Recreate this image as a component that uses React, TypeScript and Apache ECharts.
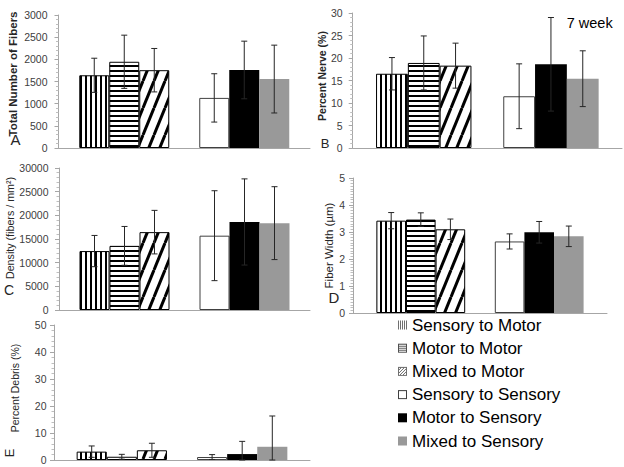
import React, { useEffect, useRef } from "react";
import * as echarts from "echarts";

// ---------- data ----------
const groups = [
  "Sensory to Motor",
  "Motor to Motor",
  "Mixed to Motor",
  "Sensory to Sensory",
  "Motor to Sensory",
  "Mixed to Sensory",
];
const fibersMean = [1640, 1945, 1755, 1130, 1760, 1555];
const fibersErr = [385, 600, 490, 545, 650, 765];
const nerveMean = [16.5, 18.9, 18.3, 11.5, 18.6, 15.4];
const nerveErr = [3.6, 6.0, 5.0, 7.2, 10.4, 6.2];
const densityMean = [12450, 13550, 16450, 15700, 18600, 18350];
const densityErr = [3300, 4100, 4600, 9500, 9100, 7700];
const widthMean = [3.42, 3.46, 3.1, 2.65, 2.99, 2.84];
const widthErr = [0.3, 0.25, 0.38, 0.28, 0.4, 0.38];
const debrisMean = [3.1, 1.2, 3.6, 1.1, 2.2, 4.9];
const debrisErr = [2.1, 0.9, 2.6, 0.9, 4.7, 11.4];

const FONT = "'Liberation Sans', Arial, sans-serif";

function makeCanvas(w: number, h: number, draw: (ctx: CanvasRenderingContext2D) => void) {
  const c = document.createElement("canvas");
  c.width = w;
  c.height = h;
  const ctx = c.getContext("2d") as CanvasRenderingContext2D;
  draw(ctx);
  return c;
}
function pattern(c: HTMLCanvasElement) {
  return { image: c, repeat: "repeat", imageWidth: c.width, imageHeight: c.height } as any;
}

export default function App() {
  const ref = useRef<HTMLDivElement>(null);

  useEffect(() => {
    if (!ref.current) return;
    const chart = echarts.init(ref.current, null, { renderer: "svg" });

    const vStripe = makeCanvas(5, 5, (ctx) => {
      ctx.fillStyle = "#fff";
      ctx.fillRect(0, 0, 5, 5);
      ctx.fillStyle = "#000";
      ctx.fillRect(0, 0, 2, 5);
    });
    const hStripe = makeCanvas(5, 5, (ctx) => {
      ctx.fillStyle = "#fff";
      ctx.fillRect(0, 0, 5, 5);
      ctx.fillStyle = "#000";
      ctx.fillRect(0, 0, 5, 2);
    });
    const dStripe = makeCanvas(11, 27, (ctx) => {
      ctx.fillStyle = "#fff";
      ctx.fillRect(0, 0, 11, 27);
      ctx.strokeStyle = "#000";
      ctx.lineWidth = 3;
      for (const x0 of [-11, 0, 11]) {
        ctx.beginPath();
        ctx.moveTo(x0, 27);
        ctx.lineTo(x0 + 11, 0);
        ctx.stroke();
      }
    });

    // legend icons (9x9 pixel images)
    const S = 9;
    const icon = (draw: (ctx: CanvasRenderingContext2D) => void) =>
      "image://" + makeCanvas(S, S, draw).toDataURL();
    const border = (ctx: CanvasRenderingContext2D, col: string) => {
      ctx.fillStyle = col;
      ctx.fillRect(0, 0, S, 1);
      ctx.fillRect(0, S - 1, S, 1);
      ctx.fillRect(0, 0, 1, S);
      ctx.fillRect(S - 1, 0, 1, S);
    };
    const legendIcons = [
      icon((ctx) => {
        ctx.fillStyle = "#fff";
        ctx.fillRect(0, 0, S, S);
        ctx.fillStyle = "#707070";
        for (const x of [0, 2, 4, 6, 8]) ctx.fillRect(x, 0, 1, S);
      }),
      icon((ctx) => {
        ctx.fillStyle = "#fff";
        ctx.fillRect(0, 0, S, S);
        ctx.fillStyle = "#606060";
        for (const y of [2, 4, 6]) ctx.fillRect(0, y, S, 1);
        border(ctx, "#505050");
      }),
      icon((ctx) => {
        ctx.fillStyle = "#fff";
        ctx.fillRect(0, 0, S, S);
        ctx.fillStyle = "#707070";
        for (let x = 0; x < S; x++)
          for (let y = 0; y < S; y++) if ((x + y) % 3 === 0) ctx.fillRect(x, y, 1, 1);
        border(ctx, "#707070");
      }),
      icon((ctx) => {
        ctx.fillStyle = "#fff";
        ctx.fillRect(0, 0, S, S);
        border(ctx, "#404040");
      }),
      icon((ctx) => {
        ctx.fillStyle = "#000";
        ctx.fillRect(0, 0, S, S);
      }),
      icon((ctx) => {
        ctx.fillStyle = "#999";
        ctx.fillRect(0, 0, S, S);
      }),
    ];

    const barStyles: any[] = [
      { color: pattern(vStripe), borderColor: "#000", borderWidth: 1 },
      { color: pattern(hStripe), borderColor: "#000", borderWidth: 1 },
      { color: pattern(dStripe), borderColor: "#000", borderWidth: 1 },
      { color: "#ffffff", borderColor: "#404040", borderWidth: 1 },
      { color: "#000000" },
      { color: "#999999" },
    ];

    const panels = [
      { mean: fibersMean, err: fibersErr, max: 3000, interval: 500, left: 58.5, top: 15, width: 251.5, height: 133, bw: 30, name: "Total Number of Fibers", nameSize: 11.5, nameWeight: "bold", nameGap: 39.4, namePad: 15, labelMargin: 11, minor: 5 },
      { mean: nerveMean, err: nerveErr, max: 30, interval: 5, left: 352.7, top: 13, width: 269.3, height: 135, bw: 31.8, name: "Percent Nerve (%)", nameSize: 10.5, nameWeight: "bold", nameGap: 21.7, namePad: 9, labelMargin: 10, minor: 5 },
      { mean: densityMean, err: densityErr, max: 30000, interval: 5000, left: 59, top: 168, width: 251, height: 142, bw: 30, name: "Density (fibers / mm²)", nameSize: 10.7, nameWeight: "normal", nameGap: 41, namePad: 22, labelMargin: 10.5, minor: 5 },
      { mean: widthMean, err: widthErr, max: 5, interval: 1, left: 353, top: 178, width: 254, height: 135, bw: 29.6, name: "Fiber Width (µm)", nameSize: 11.5, nameWeight: "normal", nameGap: 12.7, namePad: 0, labelMargin: 8, minor: 10 },
      { mean: debrisMean, err: debrisErr, max: 50, interval: 10, left: 54, top: 325, width: 256, height: 135, bw: 30.1, name: "Percent Debris (%)", nameSize: 10.5, nameWeight: "normal", nameGap: 33.7, namePad: 9, labelMargin: 7.5, minor: 5 },
    ];

    const axisColor = "#a6a6a6";
    const grid: any[] = [];
    const xAxis: any[] = [];
    const yAxis: any[] = [];
    const series: any[] = [];

    panels.forEach((p, gi) => {
      grid.push({ left: p.left, top: p.top, width: p.width, height: p.height });
      xAxis.push({
        type: "category",
        gridIndex: gi,
        data: [""],
        axisLine: { lineStyle: { color: axisColor, width: 1 } },
        axisTick: { show: false },
        axisLabel: { show: false },
        splitLine: { show: false },
      });
      yAxis.push({
        type: "value",
        gridIndex: gi,
        min: 0,
        max: p.max,
        interval: p.interval,
        axisLine: { show: true, lineStyle: { color: axisColor, width: 1 } },
        axisTick: { show: true, length: 4, lineStyle: { color: axisColor } },
        minorTick: { show: true, splitNumber: p.minor, length: 2.5, lineStyle: { color: "#bfbfbf" } },
        splitLine: { show: false },
        axisLabel: {
          fontSize: 10.5,
          fontFamily: FONT,
          color: "#404040",
          margin: p.labelMargin,
          formatter: (v: number) => String(v),
        },
        name: p.name,
        nameLocation: "middle",
        nameRotate: 90,
        nameGap: p.nameGap,
        nameTextStyle: {
          fontSize: p.nameSize,
          fontWeight: p.nameWeight,
          fontFamily: FONT,
          color: "#262626",
          padding: [0, 0, 0, p.namePad],
        },
      });

      // 7 bar slots: 3 motor targets, blank, 3 sensory targets
      const slotGroups = [0, 1, 2, -1, 3, 4, 5];
      slotGroups.forEach((g) => {
        if (g < 0) {
          series.push({
            type: "bar",
            name: "blank",
            xAxisIndex: gi,
            yAxisIndex: gi,
            barWidth: p.bw,
            barGap: "0%",
            data: [0],
            itemStyle: { color: "transparent" },
            silent: true,
          });
        } else {
          series.push({
            type: "bar",
            name: groups[g],
            xAxisIndex: gi,
            yAxisIndex: gi,
            barWidth: p.bw,
            barGap: "0%",
            data: [p.mean[g]],
            itemStyle: barStyles[g],
          });
        }
      });

      const errData = slotGroups
        .map((g, slot) => (g < 0 ? null : [0, p.mean[g], p.err[g], slot]))
        .filter((d) => d !== null);
      const bw = p.bw;
      series.push({
        type: "custom",
        name: "error",
        xAxisIndex: gi,
        yAxisIndex: gi,
        data: errData,
        encode: { x: 0, y: 1 },
        z: 10,
        silent: true,
        renderItem: (params: any, api: any) => {
          const mean = api.value(1);
          const err = api.value(2);
          const slot = api.value(3);
          const base = api.coord([0, mean]);
          const top = api.coord([0, mean + err]);
          const bot = api.coord([0, Math.max(0, mean - err)]);
          const x = base[0] + (slot - 3) * bw;
          const cap = 3;
          const st = { stroke: "#262626", lineWidth: 1 };
          return {
            type: "group",
            children: [
              { type: "line", shape: { x1: x, y1: top[1], x2: x, y2: bot[1] }, style: st },
              { type: "line", shape: { x1: x - cap, y1: top[1], x2: x + cap, y2: top[1] }, style: st },
              { type: "line", shape: { x1: x - cap, y1: bot[1], x2: x + cap, y2: bot[1] }, style: st },
            ],
          };
        },
      });
    });

    const letter = (t: string, x: number, y: number, size: number, rot = 0) => ({
      type: "text",
      x,
      y,
      rotation: rot,
      style: {
        text: t,
        fontSize: size,
        fontFamily: FONT,
        fill: "#262626",
        align: "center",
        verticalAlign: "middle",
      },
    });

    chart.setOption({
      animation: false,
      backgroundColor: "#ffffff",
      grid,
      xAxis,
      yAxis,
      series,
      legend: {
        orient: "vertical",
        left: 398,
        top: 316.5,
        padding: 0,
        itemWidth: 9,
        itemHeight: 9,
        itemGap: 6.2,
        selectedMode: false,
        textStyle: { fontSize: 17, fontFamily: FONT, color: "#000", lineHeight: 17 },
        data: groups.map((g, i) => ({ name: g, icon: legendIcons[i] })),
      },
      graphic: [
        letter("A", 15.5, 139, 15),
        letter("B", 325, 143, 13),
        letter("C", 9, 290, 14),
        letter("D", 334, 297, 15),
        letter("E", 9.5, 453, 13, Math.PI / 2),
        {
          type: "text",
          left: 566.7,
          top: 15,
          style: { text: "7 week", fontSize: 14.5, fontFamily: FONT, fill: "#000" },
        },
      ],
    });

    return () => chart.dispose();
  }, []);

  return (
    <div
      ref={ref}
      style={{ position: "absolute", left: 0, top: 0, width: 624, height: 467 }}
    />
  );
}
